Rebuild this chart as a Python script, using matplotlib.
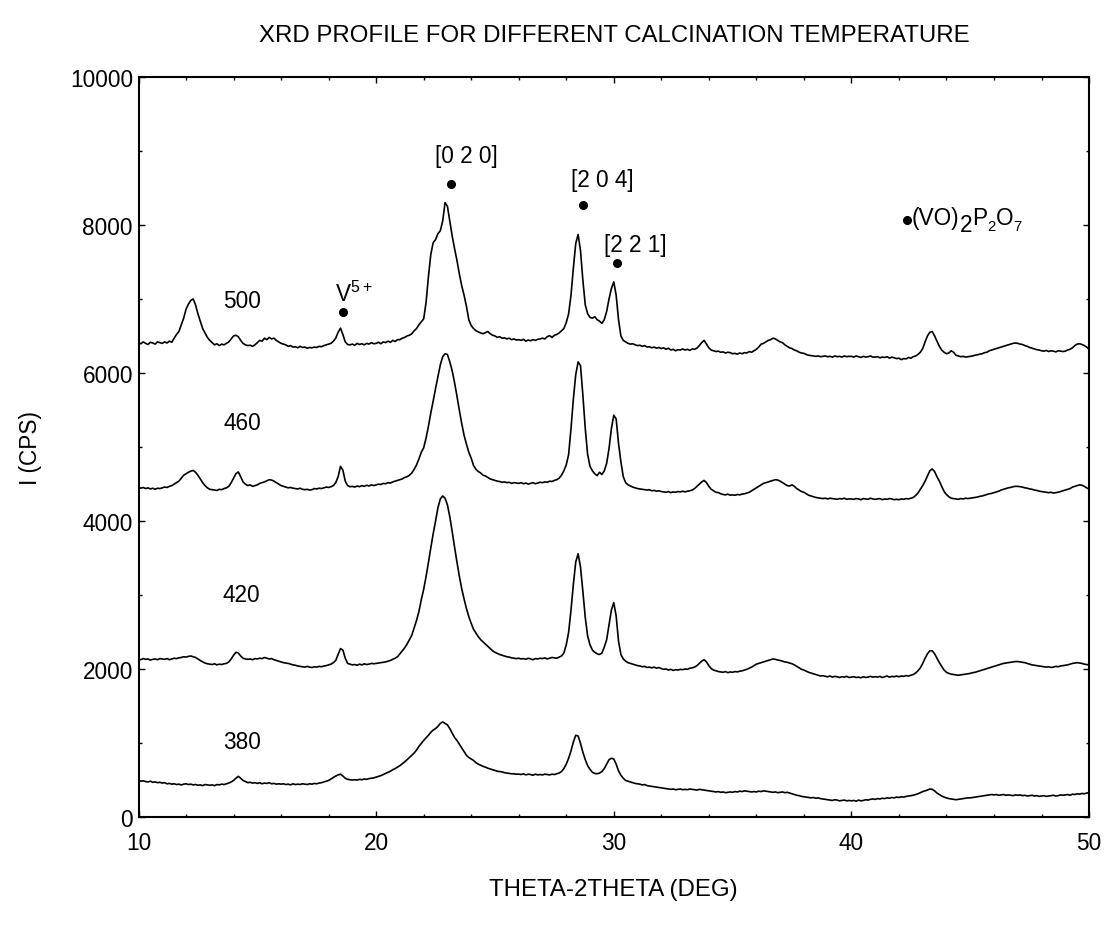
import numpy as np
import matplotlib
matplotlib.use("Agg")
import matplotlib.pyplot as plt
from matplotlib.ticker import MultipleLocator

plt.rcParams['font.family'] = ['Liberation Sans', 'DejaVu Sans']
plt.rcParams['mathtext.fontset'] = 'custom'
plt.rcParams['mathtext.rm'] = 'Liberation Sans'

# 2-theta grid (deg), step 0.1
two_theta = np.round(np.arange(10.0, 50.05, 0.1), 1)

i_500 = [
    6410, 6395, 6420, 6400, 6385, 6415, 6405, 6390, 6420, 6410,
    6400, 6420, 6405, 6430, 6415, 6470, 6520, 6560, 6650, 6740,
    6860, 6930, 6980, 7000, 6920, 6800, 6700, 6600, 6540, 6480,
    6440, 6410, 6380, 6395, 6370, 6390, 6380, 6400, 6420, 6460,
    6500, 6510, 6490, 6440, 6400, 6380, 6370, 6375, 6360, 6380,
    6410, 6440, 6430, 6470, 6450, 6480, 6460, 6470, 6440, 6420,
    6400, 6390, 6380, 6360, 6370, 6350, 6355, 6340, 6360, 6345,
    6350, 6335, 6345, 6340, 6350, 6345, 6360, 6355, 6370, 6380,
    6390, 6400, 6430, 6470, 6550, 6605, 6520, 6420, 6385, 6380,
    6390, 6375, 6400, 6385, 6395, 6380, 6400, 6390, 6410, 6395,
    6400, 6415, 6395, 6420, 6410, 6430, 6415, 6440, 6425, 6450,
    6450, 6470, 6480, 6500, 6510, 6530, 6570, 6600, 6650, 6690,
    6730, 6950, 7300, 7600, 7760, 7800, 7880, 7920, 8050, 8300,
    8250, 8050, 7850, 7680, 7520, 7340, 7180, 7050, 6900, 6720,
    6640, 6600, 6570, 6555, 6540, 6530, 6545, 6560, 6530, 6510,
    6500, 6480, 6490, 6470, 6475, 6460, 6470, 6450, 6460, 6445,
    6450, 6440, 6455, 6430, 6445, 6435, 6450, 6440, 6455, 6460,
    6470, 6460, 6490, 6505, 6480, 6510, 6520, 6540, 6570, 6600,
    6680, 6800, 7050, 7420, 7750, 7870, 7650, 7250, 6920, 6800,
    6750, 6740, 6760, 6720, 6700, 6670, 6720, 6830, 7000, 7140,
    7230, 7050, 6720, 6500, 6440, 6420, 6400, 6390, 6395, 6380,
    6370, 6375, 6360, 6370, 6350, 6355, 6340, 6350, 6335, 6345,
    6330, 6340, 6320, 6335, 6310, 6320, 6300, 6315, 6310, 6325,
    6310, 6320, 6305, 6325, 6320, 6335, 6370, 6410, 6440, 6390,
    6340, 6310, 6300, 6290, 6295, 6280, 6285, 6270, 6280, 6275,
    6260, 6265, 6255, 6270, 6260, 6275, 6270, 6290, 6280, 6300,
    6320, 6350, 6390, 6400, 6420, 6440, 6450, 6470, 6460, 6440,
    6420, 6410, 6380, 6360, 6340, 6330, 6310, 6300, 6280, 6270,
    6265, 6250, 6240, 6235, 6230, 6225, 6230, 6220, 6225, 6230,
    6220, 6225, 6215, 6230, 6220, 6225, 6215, 6230, 6220, 6225,
    6225, 6215, 6230, 6220, 6210, 6225, 6215, 6220, 6230, 6215,
    6215, 6220, 6205, 6215, 6210, 6220, 6200, 6215, 6205, 6195,
    6200, 6180, 6195, 6190, 6210, 6200, 6220, 6230, 6250, 6280,
    6330, 6420, 6500, 6550, 6560, 6500, 6430, 6360, 6310, 6280,
    6260, 6270, 6300, 6280, 6240, 6230, 6220, 6225, 6215, 6220,
    6225, 6230, 6240, 6245, 6255, 6260, 6275, 6280, 6300, 6310,
    6320, 6330, 6340, 6350, 6360, 6370, 6380, 6390, 6400, 6405,
    6400, 6390, 6385, 6370, 6360, 6345, 6335, 6325, 6315, 6310,
    6300, 6295, 6305, 6290, 6300, 6295, 6285, 6300, 6295, 6290,
    6295, 6310, 6320, 6340, 6370, 6390, 6395, 6385, 6370, 6350,
    6320,
]

i_460 = [
    4460, 4445, 4455, 4440, 4450, 4435, 4445, 4430, 4445, 4440,
    4450, 4460, 4455, 4470, 4480, 4500, 4520, 4540, 4580, 4620,
    4640, 4660, 4675, 4685, 4660, 4620, 4570, 4520, 4480, 4450,
    4430, 4425, 4420, 4415, 4430, 4425, 4440, 4450, 4470, 4520,
    4580, 4640, 4665, 4600, 4530, 4500, 4480, 4490, 4470, 4480,
    4490, 4510, 4520, 4530, 4545, 4560, 4555, 4540, 4520, 4500,
    4480, 4470, 4460, 4450, 4455, 4445, 4440, 4435, 4445, 4430,
    4425, 4430, 4420, 4425, 4440, 4435, 4445, 4440, 4450, 4460,
    4455, 4465, 4480, 4520, 4600, 4740, 4690, 4540, 4480, 4465,
    4470, 4460, 4475, 4465, 4480, 4470, 4485, 4475, 4490, 4480,
    4490, 4500, 4495, 4510, 4505, 4520, 4515, 4530, 4540, 4550,
    4560, 4570, 4590, 4600, 4620, 4650, 4700, 4760, 4840, 4930,
    4990, 5120, 5280, 5460, 5620, 5790, 5950, 6110, 6220, 6260,
    6250, 6150, 6030, 5870, 5690, 5500, 5320, 5160, 5040, 4930,
    4850, 4750, 4700, 4670, 4650, 4620, 4610, 4590, 4570, 4560,
    4550, 4540, 4535, 4525, 4530, 4520, 4525, 4510, 4520, 4515,
    4510, 4520, 4505, 4515, 4500, 4510, 4520, 4505, 4515, 4525,
    4520, 4530, 4525, 4540, 4535, 4550, 4560, 4580, 4620, 4680,
    4760, 4900, 5250, 5650, 5980, 6150, 6100, 5700, 5250, 4900,
    4740, 4680, 4640, 4615, 4660, 4630, 4680, 4780, 4980, 5250,
    5430, 5380, 5050, 4800, 4600, 4520, 4490, 4475, 4460, 4450,
    4440, 4435, 4430, 4425, 4420, 4425, 4410, 4415, 4405, 4410,
    4400, 4395, 4390, 4400, 4385, 4395, 4390, 4400, 4395, 4405,
    4395, 4405, 4410, 4420, 4440, 4470, 4500, 4530, 4550, 4520,
    4470, 4430, 4410, 4390, 4385, 4370, 4360, 4355, 4365, 4350,
    4355, 4350, 4360, 4355, 4365, 4370, 4380, 4390, 4410, 4430,
    4450, 4470, 4490, 4510, 4520, 4530, 4540, 4550, 4560, 4555,
    4540, 4520, 4500, 4480, 4475, 4490, 4470, 4440, 4420, 4400,
    4390, 4370, 4350, 4340, 4330, 4320, 4315, 4310, 4305, 4310,
    4300, 4310, 4305, 4300, 4295, 4305, 4300, 4310, 4295, 4300,
    4300, 4295, 4305, 4300, 4290, 4305, 4300, 4295, 4310, 4300,
    4295, 4300, 4305, 4290, 4300, 4295, 4305, 4300, 4290, 4295,
    4290, 4300, 4295, 4305, 4300, 4310, 4320, 4345, 4380, 4430,
    4480, 4540, 4610, 4680, 4705, 4670, 4600, 4540, 4470, 4400,
    4360, 4330, 4310, 4305, 4300, 4295, 4305, 4300, 4310, 4305,
    4310, 4315, 4320, 4325, 4335, 4340, 4350, 4360, 4370, 4375,
    4385, 4395, 4405, 4420, 4430, 4440, 4450, 4455, 4465, 4470,
    4470, 4465, 4460, 4450, 4445, 4435, 4430, 4420, 4415, 4405,
    4400, 4395, 4390, 4385, 4390, 4380, 4385, 4390, 4400, 4410,
    4420, 4430, 4440, 4460, 4470, 4480, 4490, 4485, 4470, 4450,
    4430,
]

i_420 = [
    2140, 2130, 2145, 2135, 2140, 2125, 2135, 2140, 2130, 2145,
    2140, 2135, 2145, 2130, 2140, 2150, 2145, 2155, 2160, 2170,
    2165, 2175, 2180, 2170, 2160, 2140, 2120, 2100, 2085, 2075,
    2070, 2065, 2075, 2060, 2070, 2065, 2075, 2080, 2100, 2140,
    2190, 2230, 2220, 2180, 2150, 2140, 2135, 2140, 2130, 2145,
    2140, 2150, 2145, 2160, 2150, 2140, 2145, 2130, 2120, 2110,
    2100, 2090, 2085, 2080, 2070, 2060, 2055, 2045, 2040, 2035,
    2030, 2040, 2030, 2025, 2035, 2030, 2040, 2035, 2045, 2050,
    2060, 2070, 2090, 2120, 2200, 2280, 2260, 2150, 2080, 2070,
    2060, 2065, 2055, 2070, 2060, 2075, 2065, 2070, 2080, 2075,
    2080, 2085, 2090, 2095, 2100, 2110, 2120, 2135, 2150, 2170,
    2210, 2250, 2290, 2340, 2400, 2460, 2560, 2660, 2780, 2940,
    3080, 3250, 3440, 3640, 3830, 4000, 4180, 4300, 4340, 4310,
    4220, 4060, 3860, 3650, 3450, 3260, 3090, 2950, 2820, 2710,
    2620, 2540, 2490, 2440, 2400, 2370, 2340, 2310, 2280, 2250,
    2230, 2215, 2200, 2190, 2180, 2170, 2165, 2155, 2150, 2145,
    2150, 2140, 2145, 2135, 2150, 2140, 2130, 2145, 2140, 2150,
    2145, 2155, 2140, 2150, 2160, 2155, 2150, 2165, 2180, 2220,
    2330, 2500, 2800, 3150, 3450, 3560, 3380, 3050, 2700, 2450,
    2330, 2260, 2230, 2210, 2200, 2220, 2300, 2400, 2600, 2800,
    2900, 2720, 2380, 2200, 2140, 2110, 2090, 2080, 2070, 2060,
    2050, 2045, 2035, 2040, 2025, 2030, 2020, 2030, 2015, 2025,
    2010, 2000, 2005, 1990, 2000, 1985, 1995, 1990, 2000, 1995,
    2005, 2000, 2015, 2020, 2030, 2050, 2080, 2110, 2130, 2100,
    2050, 2010, 1990, 1980, 1970, 1965, 1960, 1970, 1955, 1965,
    1960, 1970, 1965, 1975, 1980, 1990, 2000, 2015, 2030, 2050,
    2070, 2080, 2090, 2100, 2110, 2120, 2130, 2140, 2135, 2125,
    2120, 2110, 2100, 2095, 2085, 2075, 2060, 2040, 2020, 2000,
    1990, 1975, 1960, 1950, 1940, 1930, 1920, 1910, 1915, 1905,
    1900, 1910, 1895, 1905, 1900, 1890, 1900, 1895, 1905, 1890,
    1895, 1900, 1890, 1895, 1885, 1900, 1890, 1895, 1905, 1895,
    1900, 1895, 1905, 1890, 1900, 1910, 1895, 1905, 1900, 1910,
    1900, 1910, 1905, 1915, 1910, 1920, 1930, 1950, 1980, 2020,
    2080, 2150, 2210, 2250, 2250, 2210, 2150, 2090, 2040, 1990,
    1960, 1945, 1935, 1930, 1925, 1920, 1925, 1930, 1935, 1940,
    1945, 1955, 1960, 1970, 1980, 1990, 2000, 2010, 2020, 2030,
    2040, 2050, 2060, 2070, 2080, 2085, 2090, 2095, 2100, 2105,
    2105, 2100, 2095, 2090, 2080, 2070, 2060, 2055, 2050, 2045,
    2040, 2035, 2030, 2035, 2025, 2030, 2040, 2035, 2045, 2050,
    2055, 2060, 2070, 2080, 2085, 2090, 2085, 2080, 2070, 2065,
    2060,
]

i_380 = [
    500, 490, 495, 485, 480, 490, 475, 480, 470, 475,
    465, 470, 455, 460, 450, 455, 445, 450, 440, 450,
    455, 445, 450, 440, 445, 435, 440, 430, 445, 440,
    435, 440, 430, 445, 440, 450, 445, 455, 465, 480,
    500, 530, 555, 530, 500, 485, 470, 475, 465, 470,
    460, 470, 455, 465, 460, 470, 455, 460, 450, 455,
    450, 455, 445, 450, 440, 455, 445, 450, 445, 455,
    450, 445, 455, 450, 460, 455, 465, 470, 480, 490,
    500, 520, 540, 560, 575, 585, 560, 530, 515, 510,
    505, 510, 505, 515, 510, 520, 515, 525, 530, 535,
    545, 555, 565, 580, 595, 610, 625, 645, 660, 680,
    700, 725, 750, 780, 810, 840, 870, 910, 960, 1000,
    1040, 1075, 1110, 1150, 1180, 1200, 1230, 1270, 1290, 1270,
    1250, 1200, 1140, 1080, 1040, 990, 940, 890, 840, 810,
    790, 770, 740, 720, 705, 690, 680, 665, 655, 645,
    635, 625, 620, 615, 605, 600, 595, 590, 590, 585,
    585, 580, 590, 575, 585, 580, 570, 585, 575, 580,
    575, 585, 580, 575, 585, 580, 590, 600, 620, 660,
    720, 800, 900, 1020, 1110, 1100, 1000, 880, 780, 700,
    650, 610, 595, 590, 600, 620, 660, 720, 780, 800,
    790, 720, 630, 570, 530, 500, 490, 480, 470, 460,
    455, 450, 440, 445, 430, 425, 420, 415, 410, 405,
    400, 395, 390, 385, 380, 385, 375, 380, 385, 375,
    380, 375, 385, 380, 375, 370, 380, 375, 370, 365,
    360, 355, 350, 345, 350, 340, 345, 335, 340, 345,
    340, 350, 345, 355, 350, 360, 355, 350, 345, 350,
    345, 355, 350, 360, 355, 350, 345, 340, 345, 335,
    340, 345, 335, 340, 330, 320, 310, 300, 295, 285,
    280, 275, 270, 265, 270, 260, 265, 255, 250, 245,
    240, 235, 230, 240, 235, 225, 230, 235, 225, 230,
    225, 230, 220, 235, 225, 230, 240, 235, 245, 250,
    245, 255, 250, 260, 255, 265, 260, 270, 265, 275,
    270, 280, 275, 285, 290, 295, 300, 310, 320, 335,
    350, 360, 370, 385, 380, 360, 330, 310, 290, 275,
    265, 255, 250, 245, 240, 245, 250, 255, 260, 265,
    265, 270, 275, 280, 285, 290, 295, 300, 305, 310,
    305, 310, 300, 305, 310, 300, 305, 300, 295, 305,
    300, 305, 295, 300, 290, 295, 300, 290, 295, 285,
    290, 295, 285, 290, 295, 300, 290, 295, 305, 300,
    305, 310, 300, 315, 310, 320, 315, 325, 320, 330,
    335,
]

series_labels = ['500', '460', '420', '380']
series_label_pos = [(14.36, 6977), (14.36, 5326), (14.34, 3004), (14.34, 1023)]

peak_labels = ['[0 2 0]', '[2 0 4]', '[2 2 1]']
peak_label_pos = [(23.8, 8930), (29.5, 8606), (30.9, 7734)]
dot_x = [18.6, 23.15, 28.7, 30.15, 42.33]
dot_y = [6830, 8550, 8270, 7490, 8070]

fig = plt.figure(figsize=(11.08, 9.28), dpi=100)
ax = fig.add_axes([0.125, 0.118, 0.8579, 0.7983])

for ys in (i_500, i_460, i_420, i_380):
    ax.plot(two_theta, ys, color='black', lw=1.2)

ax.plot(dot_x, dot_y, 'o', color='black', ms=5.5)

fs = 16.3
for lab, (xx, yy) in zip(series_labels, series_label_pos):
    ax.text(xx, yy, lab, ha='center', va='center', fontsize=fs)
for lab, (xx, yy) in zip(peak_labels, peak_label_pos):
    ax.text(xx, yy, lab, ha='center', va='center', fontsize=fs)
ax.text(18.28, 6977, r'V$^{5+}$', ha='left', va='baseline', fontsize=fs)

# (VO)2P2O7 with a full-size, lowered first "2" as in the source figure
t1 = ax.text(42.55, 7945, '(VO)', ha='left', va='bottom', fontsize=fs)
t2 = ax.annotate('2', xy=(1, 0), xycoords=t1, xytext=(0, -5),
                 textcoords='offset points', ha='left', va='bottom', fontsize=fs)
t3 = ax.annotate('P', xy=(1, 0), xycoords=t2, xytext=(0, 5),
                 textcoords='offset points', ha='left', va='bottom', fontsize=fs)
t4 = ax.annotate('2', xy=(1, 0), xycoords=t3, xytext=(0, -3),
                 textcoords='offset points', ha='left', va='bottom', fontsize=fs * 0.65)
t5 = ax.annotate('O', xy=(1, 0), xycoords=t4, xytext=(0, 3),
                 textcoords='offset points', ha='left', va='bottom', fontsize=fs)
t6 = ax.annotate('7', xy=(1, 0), xycoords=t5, xytext=(0, -3),
                 textcoords='offset points', ha='left', va='bottom', fontsize=fs * 0.65)

ax.set_xlim(10, 50)
ax.set_ylim(0, 10000)
ax.xaxis.set_major_locator(MultipleLocator(10))
ax.xaxis.set_minor_locator(MultipleLocator(2))
ax.yaxis.set_major_locator(MultipleLocator(2000))
ax.yaxis.set_minor_locator(MultipleLocator(1000))
ax.tick_params(which='both', direction='in', top=True, right=True, labelsize=fs, width=1.0)
ax.tick_params(which='major', length=4.5)
ax.tick_params(which='minor', length=2.5)
ax.tick_params(axis='x', which='major', pad=10)
ax.tick_params(axis='y', which='major', pad=4)
for sp in ax.spines.values():
    sp.set_linewidth(1.5)

ax.set_xlabel('THETA-2THETA (DEG)', fontsize=17.3, labelpad=17)
ax.set_ylabel('I (CPS)', fontsize=16.3, labelpad=20)
fig.text(0.5545, 0.961, 'XRD PROFILE FOR DIFFERENT CALCINATION TEMPERATURE',
         ha='center', va='center', fontsize=17.3)

fig.savefig('out.png', dpi=100)
